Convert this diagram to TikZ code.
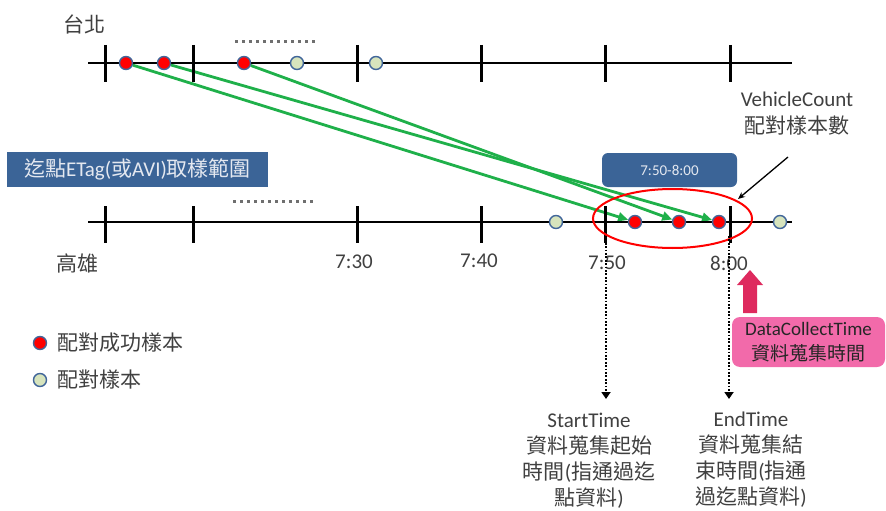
\documentclass[tikz,border=0pt]{standalone}
\usepackage{fontspec}
\setmainfont{Carlito}
\newfontfamily\cjk{Noto Sans CJK TC}
\usetikzlibrary{arrows.meta,shapes.geometric,backgrounds}
\definecolor{boxblue}{HTML}{3B6497}
\definecolor{boxtxt}{HTML}{E4E8F0}
\definecolor{dotred}{HTML}{FF0000}
\definecolor{dotgreen}{HTML}{D7E4BD}
\definecolor{dotedge}{HTML}{41669A}
\definecolor{arrgreen}{HTML}{1FB04A}
\definecolor{txtgray}{HTML}{404040}
\definecolor{pinkbox}{HTML}{F26AAA}
\definecolor{pinkarrow}{HTML}{DE2A5E}
\definecolor{dotgray}{HTML}{6F6F6F}
\tikzset{
  axisline/.style={line width=2.7pt, black},
  tickmark/.style={line width=3pt, black},
  reddot/.style={circle, minimum size=13pt, inner sep=0pt, fill=dotred, draw=dotedge, line width=1.4pt},
  greendot/.style={circle, minimum size=13pt, inner sep=0pt, fill=dotgreen, draw=dotedge, line width=1.4pt},
  match/.style={arrgreen, line width=2.8pt, -{Triangle[length=10pt,width=9pt]}},
  lbl/.style={font=\fontsize{21}{26}\selectfont, text=txtgray, inner sep=0pt, align=center},
  gapdots/.style={dotgray, line width=3pt, dash pattern=on 3pt off 4pt},
  timearrow/.style={black, line width=2.4pt, dash pattern=on 1.7pt off 1.7pt, -{Triangle[length=7pt,width=9pt]}},
  bluebox/.style={fill=boxblue, text=boxtxt, inner sep=0pt}
}
\begin{document}
\begin{tikzpicture}[x=1pt,y=-1pt]
\useasboundingbox (0,0) rectangle (886,511);

% top axis (Taipei)
\draw[axisline] (88,63) -- (792,63);
\foreach \x in {105,193,357,481,605,730} \draw[tickmark] (\x,45) -- (\x,82);
\draw[gapdots] (235,42) -- (316,42);
\node[lbl] (taipei) at (84,24) {\cjk 台北};

% bottom axis (Kaohsiung)
\draw[axisline] (88,222) -- (792,222);
\foreach \x in {105,193,357,481,605,730} \draw[tickmark] (\x,206) -- (\x,243);
\draw[gapdots] (233,201) -- (313,201);
\node[lbl] (kaohsiung) at (77,263) {\cjk 高雄};
\node[lbl] (t730) at (354,262) {7:30};
\node[lbl] (t740) at (479,261) {7:40};
\node[lbl] (t750) at (607,263) {7:50};
\node[lbl] (t800) at (729,263) {8:00};

% sample range box
\node[bluebox, minimum width=261pt, minimum height=35pt, font=\fontsize{21}{26}\selectfont] (range) at (137.5,169.5)
  {{\cjk 迄點}ETag({\cjk 或}AVI){\cjk 取樣範圍}};

% window box
\node[bluebox, rounded corners=6pt, minimum width=135pt, minimum height=34pt, font=\fontsize{15}{18}\selectfont] (win) at (669.5,170) {7:50-8:00};

% window ellipse
\node[ellipse, draw=red, line width=2pt, minimum width=159pt, minimum height=59pt, inner sep=0pt] (winell) at (672.5,218.5) {};

% dots
\node[reddot] (t1) at (126,63) {};
\node[reddot] (t2) at (164,63) {};
\node[reddot] (t3) at (244,63) {};
\node[greendot] (t4) at (297,63) {};
\node[greendot] (t5) at (376,63) {};
\node[greendot] (b0) at (556,222) {};
\node[reddot] (b1) at (635,222) {};
\node[reddot] (b2) at (679,222) {};
\node[reddot] (b3) at (719,222) {};
\node[greendot] (b4) at (780,222) {};

% matches
\begin{scope}[on background layer]
\draw[match] (t1) -- (b1);
\draw[match] (t3) -- (b2);
\draw[match] (t2) -- (b3);
\end{scope}

% VehicleCount
\node[lbl, font=\fontsize{21}{27}\selectfont] (vc) at (797,113.5) {VehicleCount\\{\cjk 配對樣本數}};
\coordinate (vcfrom) at (788,157);
\coordinate (vcto) at (738,199);
\draw[black, line width=1.3pt, -{Stealth[length=7pt,width=6pt]}] (vcfrom) -- (vcto);

% start / end time dotted arrows
\coordinate (sfrom) at (606,236);
\coordinate (sto) at (606,399);
\coordinate (efrom) at (729,236);
\coordinate (eto) at (729,399);
\draw[timearrow] (sfrom) -- (sto);
\draw[timearrow] (efrom) -- (eto);
\node[lbl] (starttime) at (589,461) {StartTime\\{\cjk 資料蒐集起始}\\{\cjk 時間}({\cjk 指通過迄}\\{\cjk 點資料})};
\node[lbl] (endtime) at (751,460) {EndTime\\{\cjk 資料蒐集結}\\{\cjk 束時間}({\cjk 指通}\\{\cjk 過迄點資料})};

% data collect time
\node[fill=pinkbox, rounded corners=8pt, minimum width=153pt, minimum height=50pt, inner sep=0pt,
  font=\fontsize{19}{25}\selectfont, text=black!85, align=center] (dct) at (808.5,342)
  {DataCollectTime\\{\cjk 資料蒐集時間}};
\fill[pinkarrow] (743,313) -- (743,285) -- (737,285) -- (750,270) -- (763,285) -- (757,285) -- (757,313) -- cycle;

% legend
\node[reddot] (lg1) at (40,343) {};
\node[greendot] (lg2) at (40,380) {};
\node[lbl, anchor=west] (lg1t) at (57,343) {\cjk 配對成功樣本};
\node[lbl, anchor=west] (lg2t) at (57,380) {\cjk 配對樣本};
\end{tikzpicture}
\end{document}
